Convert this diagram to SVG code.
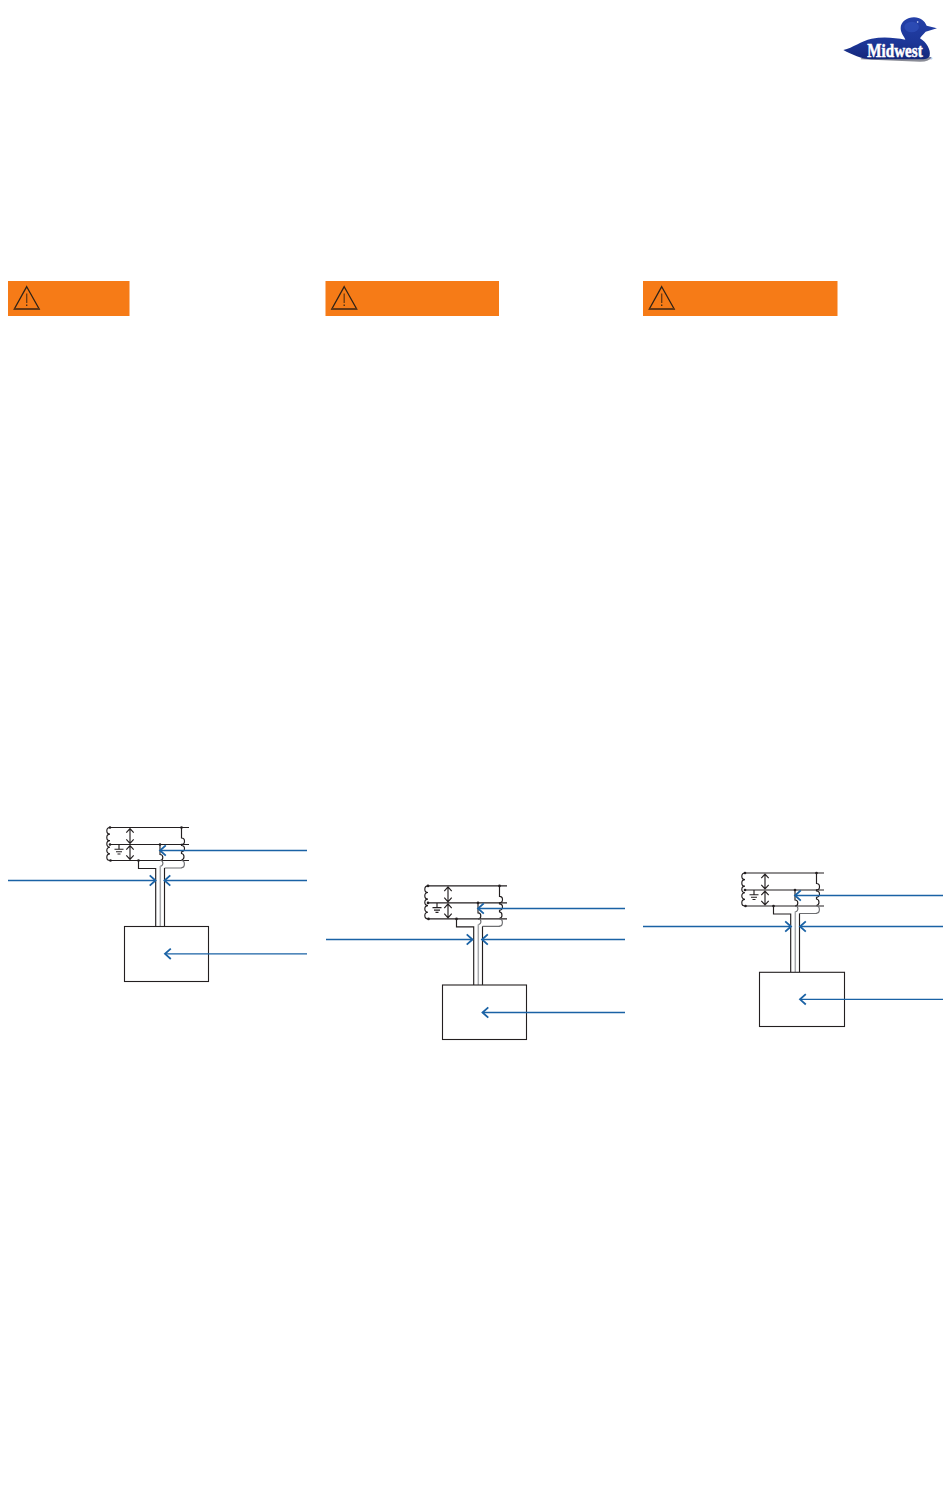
<svg xmlns="http://www.w3.org/2000/svg" xmlns:xlink="http://www.w3.org/1999/xlink" width="950" height="1502" viewBox="0 0 950 1502">
<style>
.w{fill:none;stroke:#231f20;stroke-width:1.15}
.g{fill:none;stroke:#6d6e71;stroke-width:1.15}
.lg{fill:none;stroke:#a7a9ac;stroke-width:1.5}
.dot{fill:#231f20}
.box{fill:#fff;stroke:#231f20;stroke-width:1.1}
.banner{fill:#f67b17}
.tri{fill:none;stroke:#2e2218;stroke-width:1.3;stroke-linejoin:miter}
.lead{fill:none;stroke:#1a62a5;stroke-width:1.3;marker-end:url(#chev)}
.logotext{font-family:"Liberation Serif",serif;font-weight:bold;fill:#fff;stroke:#fff;stroke-width:1.5}
</style>
<defs>
<marker id="chev" markerUnits="userSpaceOnUse" markerWidth="12" markerHeight="14" viewBox="0 0 12 14" refX="8" refY="7" orient="auto">
<path d="M2.200 1.800L8 7L2.200 12.200" fill="none" stroke="#1a62a5" stroke-width="1.8"/>
</marker>
<linearGradient id="duck" x1="0" y1="0" x2="0" y2="1">
<stop offset="0" stop-color="#2440a8"/><stop offset=".6" stop-color="#1c3697"/><stop offset="1" stop-color="#14277a"/>
</linearGradient>
<g id="warn">
<path class="tri" d="M18.700 5.700L31.200 28H6.300Z"/>
<path d="M6.300 28H31.200" fill="none" stroke="#6b3a12" stroke-width="1.800"/>
<path d="M18.700 12.500V22" fill="none" stroke="#6b3a12" stroke-width="1.300"/>
<path d="M18.700 23.600V25" fill="none" stroke="#3a2a1a" stroke-width="1.300"/>
</g>
<g id="circuit">
<path class="w" d="M109.500 827.500H189M109.500 844.500H189M110 860.500H189"/>
<path class="w" d="M110 827.500a3.200 3.300 0 0 0 0 6.600a3.200 3.300 0 0 0 0 6.600a3.200 3.300 0 0 0 0 6.600a3.200 3.300 0 0 0 0 6.600a3.200 3.300 0 0 0 0 6.600"/>
<path class="w" d="M119 844.500V849M114.500 849.200H123.500M116 851.700H122M117.500 854H120.500"/>
<path class="w" d="M130 828.500V843.500M126.300 832.700L130 828.500L133.700 832.700M126.300 839.300L130 843.500L133.700 839.300M130 845.500V859.500M126.300 849.700L130 845.500L133.700 849.700M126.300 855.300L130 859.500L133.700 855.300"/>
<path class="w" d="M181.500 827.500V838a3 3.200 0 0 1 0 6.400v1.100a3 3.200 0 0 1 0 6.400v1.600a3 3.300 0 0 1 0 6.500"/>
<path class="w" d="M160 844.500V854.500a2.800 3 0 0 1 0 6"/>
<path class="w" d="M138.500 860.500V868.500H155.700V926.500"/>
<path class="g" d="M160.300 860.500a2.600 2.800 0 0 1 0 5.600"/>
<path class="lg" d="M160.300 866V926.500"/>
<path class="g" d="M181.500 860.500a2.800 3.500 0 0 1 0 7.200V868H164.500"/>
<path class="w" d="M164.500 868V926.500"/>
<circle class="dot" cx="110" cy="827.500" r="1.300"/><circle class="dot" cx="110" cy="844.500" r="1.300"/><circle class="dot" cx="110.500" cy="860.500" r="1.300"/><circle class="dot" cx="181.500" cy="827.500" r="1.300"/><circle class="dot" cx="160" cy="844.500" r="1.300"/><circle class="dot" cx="138.500" cy="860.500" r="1.300"/>
</g>
</defs>
<rect width="950" height="1502" fill="#fff"/>
<g id="logo" transform="translate(830 5) scale(.3333)">
<path d="M92 163L270 170Q300 170 304 156L100 152Z" fill="#8a8c96"/>
<path d="M40 135C70 128 92 108 125 101C160 94 195 98 226 104C222 94 212 84 212 70C212 50 232 37 252 37C272 37 284 48 290 62L321 70L287 80C278 90 272 96 270 100C290 112 303 135 299 152C296 161 285 163 270 163L125 163C95 163 65 148 40 135Z" fill="url(#duck)"/>
<ellipse cx="245" cy="66" rx="22" ry="16" fill="#3557c4" opacity=".5"/>
<circle cx="263" cy="51" r="2.500" fill="#dfe6ff"/>
<text class="logotext" x="112" y="156" font-size="54" textLength="166" lengthAdjust="spacingAndGlyphs">Midwest</text>
<text x="298" y="165" font-family="Liberation Sans, sans-serif" font-size="12" fill="#1f3da3">®</text>
</g>
<g id="warning-1" transform="translate(8 281)"><rect class="banner" width="121.500" height="35"/><use href="#warn" xlink:href="#warn"/></g>
<g id="warning-2" transform="translate(325.500 281)"><rect class="banner" width="173.500" height="35"/><use href="#warn" xlink:href="#warn"/></g>
<g id="warning-3" transform="translate(643 281)"><rect class="banner" width="194.500" height="35"/><use href="#warn" xlink:href="#warn"/></g>
<g id="circuit-1"><use href="#circuit" xlink:href="#circuit"/><rect class="box" x="124.500" y="926.500" width="84" height="55"/></g>
<g id="circuit-2"><use href="#circuit" xlink:href="#circuit" transform="translate(318 58.400)"/><rect class="box" x="442.500" y="985" width="84" height="54.500"/></g>
<g id="circuit-3"><use href="#circuit" xlink:href="#circuit" transform="translate(635 45.500)"/><rect class="box" x="759.500" y="972.300" width="85" height="54.200"/></g>
<g id="connectors">
<path class="lead" d="M307 850.500H160"/>
<path class="lead" d="M8 880.500H155.500"/>
<path class="lead" d="M307 880.500H164.500"/>
<path class="lead" d="M307 953.800H165"/>
<path class="lead" d="M625 908.500H478"/>
<path class="lead" d="M326 939.500H472.500"/>
<path class="lead" d="M625 939.500H482"/>
<path class="lead" d="M625 1012.500H482.500"/>
<path class="lead" d="M943 895.500H795"/>
<path class="lead" d="M643 926.500H791"/>
<path class="lead" d="M943 926.500H800"/>
<path class="lead" d="M943 999.300H800"/>
</g>
</svg>
